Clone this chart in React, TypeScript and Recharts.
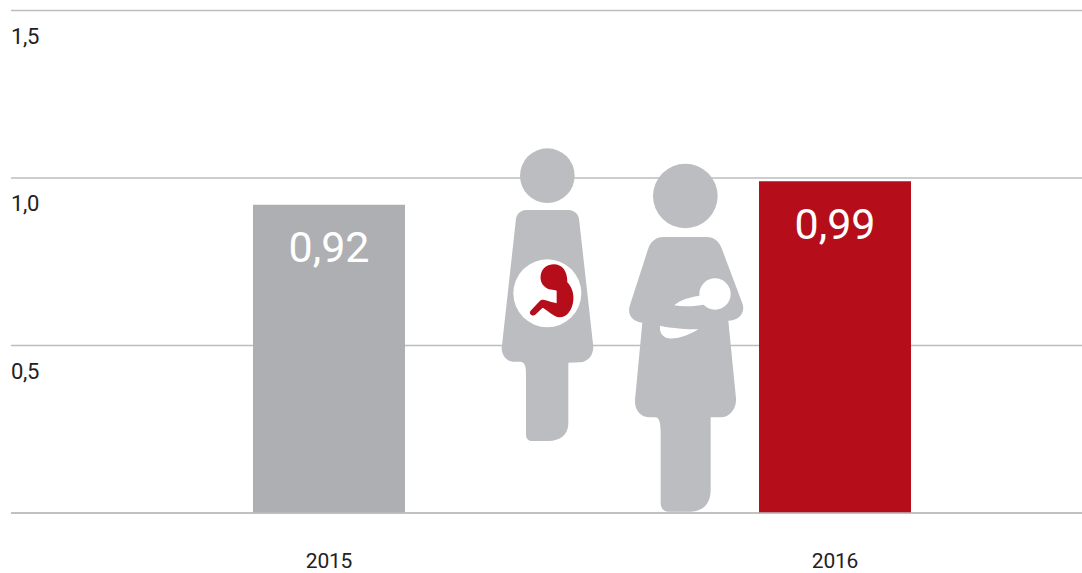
import React from 'react';
import { BarChart, Bar, Cell, CartesianGrid, LabelList, XAxis, YAxis } from 'recharts';

const years = ['2015', '2016'];
const values = [0.92, 0.99];
const barColors = ['#aeafb2', '#b50d1a'];
const yTicks = [0, 0.5, 1, 1.5];

const data = years.map((year, i) => ({ year, value: values[i] }));

const comma = (v: number, digits: number) => v.toFixed(digits).replace('.', ',');

const FONT = 'Roboto, sans-serif';
const FIGURE_GREY = '#bcbdc0';
const FETUS_RED = '#b50d1a';
const GRID = '#bdbdbd';

// tick labels sit under their grid line, flush left
const YTick = ({ y, payload }: any) => {
  if (payload.value === 0) return null;
  return (
    <text x={11} y={y + 33} fontFamily={FONT} fontSize={22} letterSpacing={-0.4} fill="#222">
      {comma(payload.value, 1)}
    </text>
  );
};

// pictogram is traced in the coordinates of a 3x crop, hence the transform
const Figures = () => (
  <svg width={1082} height={573} style={{ position: 'absolute', left: 0, top: 0, pointerEvents: 'none' }}>
    <g transform="translate(490 140) scale(0.33333)">
      <circle cx={172} cy={107} r={82} fill={FIGURE_GREY} />
      <path
        fill={FIGURE_GREY}
        d="M108 210 L235 210 C255 210 268 225 268 245 L310 620 C310 645 295 665 270 667 L235 668 L235 850 C235 885 210 903 175 903 L125 903 C115 903 108 895 108 885 L108 700 C108 680 105 665 90 665 L70 665 C50 665 35 645 35 625 L77 245 C77 225 90 210 108 210 Z"
      />
      <circle cx={172} cy={460} r={102} fill="#fff" />
      <path
        fill={FETUS_RED}
        d="M192 373 C215 373 233 392 232 427 C245 440 252 460 250 480 C248 510 230 533 208 532 C190 530 175 512 158 503 L135 525 C125 530 115 520 122 512 L150 482 C158 476 165 482 200 490 L200 452 C190 448 175 452 162 438 C143 420 150 373 192 373 Z"
      />
      <circle cx={586} cy={168} r={97} fill={FIGURE_GREY} />
      <path
        fill={FIGURE_GREY}
        d="M520 291 L650 291 C672 291 688 305 695 325 L757 490 C768 520 745 542 715 542 L738 775 C740 805 720 832 692 832 L662 832 L662 1050 C662 1095 635 1115 600 1115 L535 1115 C522 1115 512 1105 512 1090 L512 880 C512 855 510 832 495 832 L480 832 C452 832 433 810 435 780 L457 548 C428 545 410 525 420 495 L475 325 C482 305 498 291 520 291 Z"
      />
      <circle cx={675} cy={462} r={47} fill="#fff" />
      <path fill="#fff" d="M552 496 C575 478 605 470 640 466 L650 492 C620 498 585 502 552 496 Z" />
      <path fill="#fff" d="M510 557 C545 565 590 568 625 568 C590 590 555 598 535 595 C515 590 508 575 510 557 Z" />
    </g>
  </svg>
);

export default function App() {
  return (
    <div style={{ position: 'absolute', left: 0, top: 0, width: 1082, height: 573 }}>
      <BarChart width={1082} height={573} data={data} margin={{ top: 10.5, right: 0, bottom: 0, left: 0 }}>
        <CartesianGrid vertical={false} stroke={GRID} strokeWidth={1.6} />
        <XAxis
          dataKey="year"
          scale="point"
          padding={{ left: 318, right: 247 }}
          height={60}
          tickLine={false}
          axisLine={{ stroke: GRID, strokeWidth: 1.6 }}
          tickMargin={34}
          tick={{ fontFamily: FONT, fontSize: 21, fill: '#222', letterSpacing: -0.2 }}
        />
        <YAxis width={11} domain={[0, 1.5]} ticks={yTicks} axisLine={false} tickLine={false} tick={<YTick />} />
        <Bar dataKey="value" barSize={152} isAnimationActive={false}>
          {years.map((year, i) => (
            <Cell key={year} fill={barColors[i]} />
          ))}
          <LabelList
            dataKey="value"
            position="insideTop"
            offset={27}
            formatter={(v: number) => comma(v, 2)}
            style={{ fontFamily: FONT, fontSize: 43, fontWeight: 400, fill: '#fff' }}
          />
        </Bar>
      </BarChart>
      <Figures />
    </div>
  );
}
